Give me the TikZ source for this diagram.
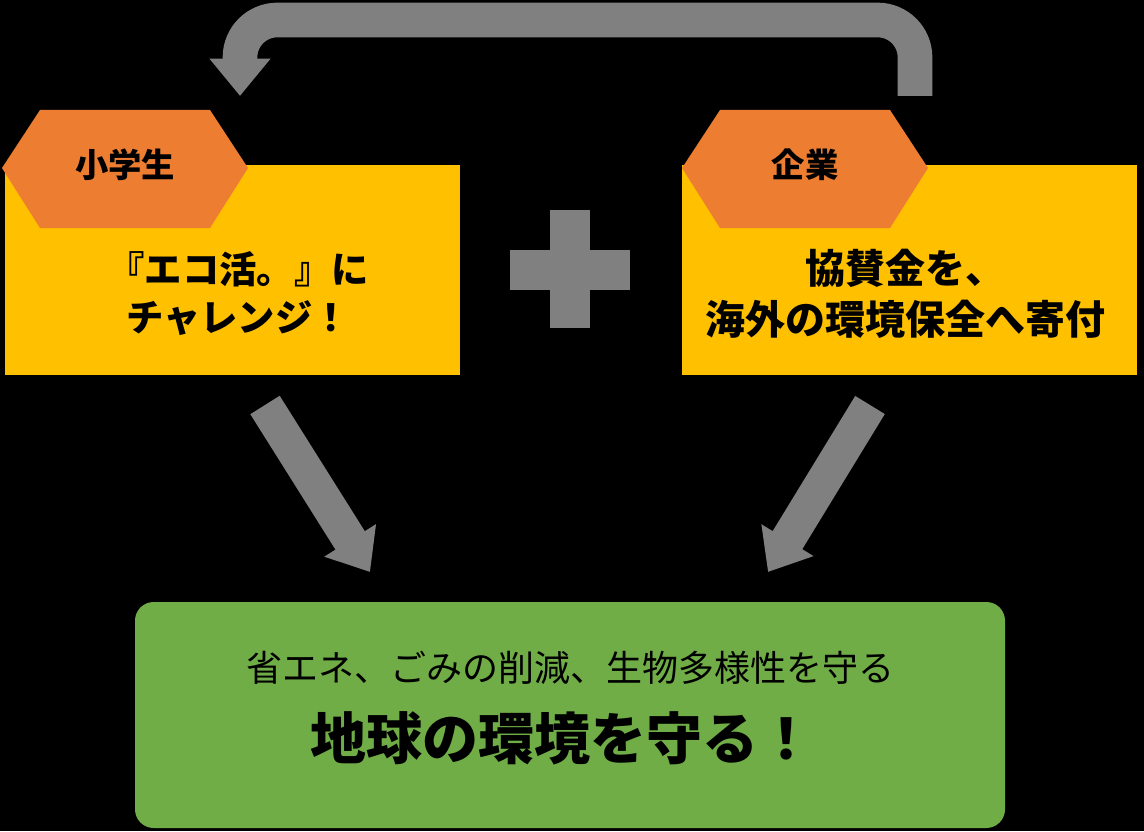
\documentclass[tikz,border=0pt]{standalone}
\usepackage{fontspec}
\setmainfont{Noto Sans CJK JP}
\usetikzlibrary{arrows.meta}
\definecolor{boxyellow}{HTML}{FFC000}
\definecolor{taborange}{HTML}{ED7D31}
\definecolor{boxgreen}{HTML}{70AD47}
\definecolor{arrowgray}{HTML}{808080}
\begin{document}
\begin{tikzpicture}[x=0.75pt,y=-0.75pt]
        \tikzset{panel/.style = {fill=boxyellow, draw=none}}
        \tikzset{tab/.style = {fill=taborange, draw=none}}
        \tikzset{label/.style = {font=\bfseries\fontsize{28pt}{34pt}\selectfont, align=center}}
        \tikzset{flow/.style = {draw=arrowgray, line width=26pt, -{Triangle[length=28pt, width=44pt]}}}

        \fill[black] (0,0) rectangle (1144,831);

        % yellow panels
        \fill[panel] (5,165) rectangle (460,375);
        \fill[panel] (682,165) rectangle (1137,375);

        % hexagon tabs
        \fill[tab] (2,168) -- (40,110) -- (210,110) -- (248,168) -- (210,228) -- (40,228) -- cycle;
        \fill[tab] (682,168) -- (720,110) -- (890,110) -- (928,168) -- (890,228) -- (720,228) -- cycle;
        \node[font=\bfseries\fontsize{25pt}{30pt}\selectfont] (kid) at (125,165) {小学生};
        \node[font=\bfseries\fontsize{25pt}{30pt}\selectfont] (firm) at (805,165) {企業};

        \node[label] (kidtext) at (238,294) {『エコ活。』に\\[2pt]チャレンジ！};
        \node[label, font=\bfseries\fontsize{30pt}{36pt}\selectfont] (firmtext) at (905,294) {協賛金を、\\[2pt]海外の環境保全へ寄付};

        % plus sign
        \fill[arrowgray] (510,250) rectangle (630,290);
        \fill[arrowgray] (550,210) rectangle (590,328);

        % green result box
        \fill[boxgreen, rounded corners=14pt] (135,602) rectangle (1005,828);
        \node[font=\fontsize{27pt}{32pt}\selectfont] (means) at (570,668) {省エネ、ごみの削減、生物多様性を守る};
        \node[font=\bfseries\fontsize{42pt}{50pt}\selectfont] (goal) at (562,738) {地球の環境を守る！};

        % arrows
        \coordinate (loopstart) at (915,96);
        \coordinate (loopend) at (240,96);
        \coordinate (kidfrom) at (265,405);
        \coordinate (kidto) at (370,572);
        \coordinate (firmfrom) at (870,405);
        \coordinate (firmto) at (768,572);
        \draw[flow, rounded corners=28pt] (loopstart) -- (915,20) -- (240,20) -- (loopend);
        \draw[flow] (kidfrom) -- (kidto);
        \draw[flow] (firmfrom) -- (firmto);
\end{tikzpicture}
\end{document}
